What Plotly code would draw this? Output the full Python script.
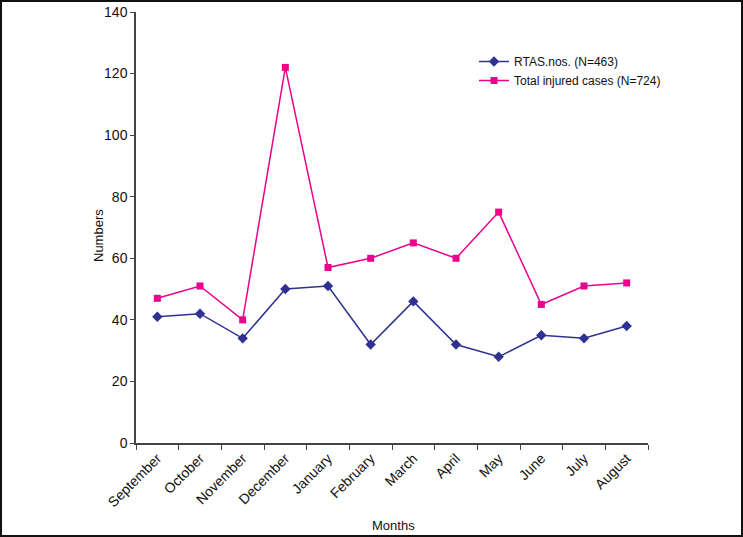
import plotly.graph_objects as go

months = ["September", "October", "November", "December", "January", "February",
          "March", "April", "May", "June", "July", "August"]
rtas = [41, 42, 34, 50, 51, 32, 46, 32, 28, 35, 34, 38]
total = [47, 51, 40, 122, 57, 60, 65, 60, 75, 45, 51, 52]

L, R, T, B = 136, 95, 12, 94
W, H = 743, 537
pw, ph = W - L - R, H - T - B


def px_x(x):
    return (x - L) / pw


def px_y(y):
    return (H - B - y) / ph


fig = go.Figure()
fig.add_trace(go.Scatter(
    x=months, y=rtas, mode="lines+markers", name="RTAS.nos. (N=463)",
    line=dict(color="#2E3192", width=1.5),
    marker=dict(symbol="diamond", size=8, color="#2E3192"),
))
fig.add_trace(go.Scatter(
    x=months, y=total, mode="lines+markers", name="Total injured cases (N=724)",
    line=dict(color="#EC008C", width=1.5),
    marker=dict(symbol="square", size=7, color="#EC008C"),
))

fig.update_layout(
    width=W, height=H,
    margin=dict(l=L, r=R, t=T, b=B, autoexpand=False),
    paper_bgcolor="white", plot_bgcolor="white",
    font=dict(family="Liberation Sans, Arial, sans-serif", size=13, color="#111111"),
    showlegend=True,
    legend=dict(x=px_x(474), y=px_y(47), xanchor="left", yanchor="top",
                bgcolor="rgba(0,0,0,0)", font=dict(size=12), tracegroupgap=2,
                itemwidth=30),
    xaxis=dict(
        type="category", range=[-0.5, 11.5], tickangle=-45, automargin=False,
        showline=True, linecolor="#444444", linewidth=1.5,
        ticks="outside", tickson="boundaries", ticklen=5, tickcolor="#444444",
        showgrid=False, zeroline=False, tickfont=dict(size=14),
    ),
    yaxis=dict(
        range=[0, 140], dtick=20, automargin=False,
        showline=True, linecolor="#444444", linewidth=1.5,
        ticks="outside", ticklen=4, tickcolor="#444444",
        showgrid=False, zeroline=False, tickfont=dict(size=14),
    ),
    annotations=[
        dict(text="Months", xref="paper", yref="paper", x=px_x(393), y=px_y(525),
             showarrow=False, font=dict(size=13), xanchor="center", yanchor="middle"),
        dict(text="Numbers", xref="paper", yref="paper", x=px_x(98), y=px_y(236),
             showarrow=False, font=dict(size=13), textangle=-90,
             xanchor="center", yanchor="middle"),
    ],
    shapes=[dict(
        type="rect", xref="paper", yref="paper",
        x0=px_x(1), x1=px_x(W - 1), y0=px_y(H - 1), y1=px_y(1),
        line=dict(color="#111111", width=2), fillcolor="rgba(0,0,0,0)", layer="below",
    )],
)

fig.write_html("out.html", config={"displayModeBar": False},
               post_script="document.body.style.margin='0';"
                           "document.body.style.overflow='hidden';")
